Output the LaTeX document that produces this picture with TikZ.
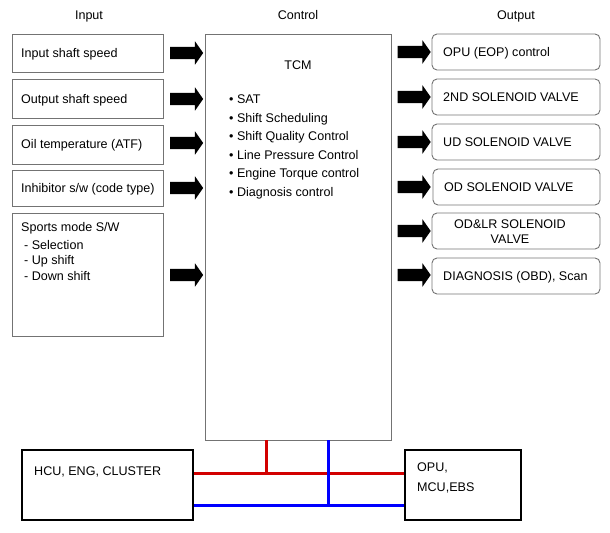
\documentclass[tikz,border=0pt]{standalone}
\usepackage{fontspec}
\setmainfont{Liberation Sans}
\usetikzlibrary{shapes.arrows}
\tikzset{
  inbox/.style={draw=black!55, line width=0.9bp},
  outbox/.style={draw=black!55, line width=0.9bp, rounded corners=5bp},
  busbox/.style={draw=black, line width=2bp},
  txt/.style={font=\fontsize{12.6}{15}\selectfont, inner sep=0pt, text height=9bp, text depth=0bp},
  blockarrow/.style={single arrow, fill=black, draw=none, minimum width=23bp, minimum height=33bp, single arrow head extend=5.5bp, single arrow tip angle=110, inner sep=0pt},
  redbus/.style={draw={rgb,255:red,210;green,0;blue,0}, line width=3bp},
  bluebus/.style={draw={rgb,255:red,0;green,0;blue,255}, line width=3bp},
}
\newcommand{\shaftbox}{\vrule height 6bp depth 6bp width 0pt}
\begin{document}
\begin{tikzpicture}[x=1bp,y=-1bp]
\useasboundingbox (0,0) rectangle (610,533);
% headers
\node[txt] (hin) at (89,15) {Input};
\node[txt] (hctl) at (298,15) {Control};
\node[txt] (hout) at (516,15) {Output};
% input boxes
\draw[inbox] (12,34) rectangle (163,72);
\node[txt, anchor=west] (i1) at (21,53) {Input shaft speed};
\draw[inbox] (12,79) rectangle (163,118);
\node[txt, anchor=west] (i2) at (21,99) {Output shaft speed};
\draw[inbox] (12,125) rectangle (163,164);
\node[txt, anchor=west] (i3) at (21,144) {Oil temperature (ATF)};
\draw[inbox] (12,170) rectangle (163,206);
\node[txt, anchor=west] (i4) at (21,188) {Inhibitor s/w (code type)};
\draw[inbox] (12,213) rectangle (163,336);
\node[txt, anchor=west] (i5) at (21,227) {Sports mode S/W};
\node[txt, anchor=west] (i5a) at (24,245) {- Selection};
\node[txt, anchor=west] (i5b) at (24,260) {- Up shift};
\node[txt, anchor=west] (i5c) at (24,276) {- Down shift};
% TCM
\draw[inbox] (205,34) rectangle (391,440);
\node[txt] (tcm) at (298,65) {TCM};
\foreach \t [count=\k] in {SAT, Shift Scheduling, Shift Quality Control, Line Pressure Control, Engine Torque control, Diagnosis control}{
  \node[txt, anchor=west] (b\k) at (229,{99+(\k-1)*18.6}) {\textbullet\ \t};
}
% input arrows
\foreach \y/\n in {53/a1, 99/a2, 143/a3, 188/a4, 275/a5}{
  \node[blockarrow] (\n) at (184.5,\y) {\shaftbox};
}
% output arrows
\foreach \y/\n in {52/o1, 97/o2, 142/o3, 187/o4, 231/o5, 275/o6}{
  \node[blockarrow] (\n) at (412,\y) {\shaftbox};
}
% output boxes
\draw[outbox] (432,34) rectangle (600,70);
\node[txt, anchor=west] (ob1) at (443,52) {OPU (EOP) control};
\draw[outbox] (432,79) rectangle (600,115);
\node[txt, anchor=west] (ob2) at (443,97) {2ND SOLENOID VALVE};
\draw[outbox] (432,124) rectangle (600,160);
\node[txt, anchor=west] (ob3) at (443,142) {UD SOLENOID VALVE};
\draw[outbox] (433,169) rectangle (600,205);
\node[txt, anchor=west] (ob4) at (444,187) {OD SOLENOID VALVE};
\draw[outbox] (432,213) rectangle (600,249);
\node[txt] (ob5a) at (510,224) {OD\&LR SOLENOID};
\node[txt] (ob5b) at (510,239) {VALVE};
\draw[outbox] (432,258) rectangle (600,294);
\node[txt, anchor=west] (ob6) at (443,276) {DIAGNOSIS (OBD), Scan};
% bottom boxes
\draw[busbox] (22,450) rectangle (193,520);
\node[txt, anchor=west] (hcu) at (34,471) {HCU, ENG, CLUSTER};
\draw[busbox] (405,450) rectangle (521,520);
\node[txt, anchor=west] (opu) at (417,467) {OPU,};
\node[txt, anchor=west] (mcu) at (417,487) {MCU,EBS};
% buses
\coordinate (rl) at (194,473);
\coordinate (rr) at (404,473);
\coordinate (rt) at (266,440);
\coordinate (rj) at (266,473);
\coordinate (bl) at (194,505.5);
\coordinate (br) at (404,505.5);
\coordinate (bt) at (328.5,440);
\coordinate (bj) at (328.5,505.5);
\draw[redbus] (rt) -- (rj);
\draw[redbus] (rl) -- (rr);
\draw[bluebus] (bt) -- (bj);
\draw[bluebus] (bl) -- (br);
\end{tikzpicture}
\end{document}
